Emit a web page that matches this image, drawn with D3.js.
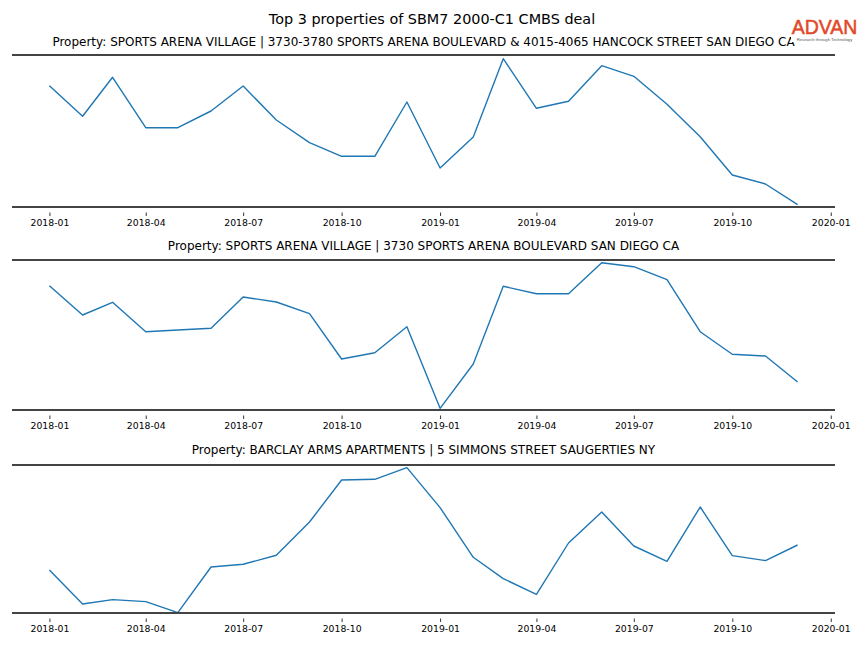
<!DOCTYPE html>
<html>
<head>
<meta charset="utf-8">
<script src="https://cdn.jsdelivr.net/npm/d3@7"></script>
<style>
  html, body { margin: 0; padding: 0; background: #fff; }
  svg { display: block; font-family: "DejaVu Sans", sans-serif; }
</style>
</head>
<body>
<svg id="chart" width="864" height="648"></svg>
<script>
// ---------- data (monthly values, arbitrary units) ----------
const months = ["2018-01","2018-02","2018-03","2018-04","2018-05","2018-06","2018-07","2018-08","2018-09","2018-10","2018-11","2018-12",
                "2019-01","2019-02","2019-03","2019-04","2019-05","2019-06","2019-07","2019-08","2019-09","2019-10","2019-11","2019-12"];

const mainTitle = "Top 3 properties of SBM7 2000-C1 CMBS deal";
const propertyTitles = [
  "Property: SPORTS ARENA VILLAGE | 3730-3780 SPORTS ARENA BOULEVARD & 4015-4065 HANCOCK STREET SAN DIEGO CA",
  "Property: SPORTS ARENA VILLAGE | 3730 SPORTS ARENA BOULEVARD SAN DIEGO CA",
  "Property: BARCLAY ARMS APARTMENTS | 5 SIMMONS STREET SAUGERTIES NY"
];

const series1 = [121.3, 90.7, 129.7, 79.3, 79.3, 96.0, 121.0, 87.0, 64.3, 50.7, 50.7, 105.0,
                 39.0, 70.0, 148.3, 98.7, 105.7, 141.3, 130.7, 102.7, 70.3, 32.0, 23.0, 2.3];
const series2 = [124.3, 95.0, 107.7, 78.3, 80.0, 81.7, 113.0, 108.0, 96.3, 51.0, 57.3, 83.3,
                 1.7, 46.0, 123.7, 116.3, 116.3, 147.3, 143.3, 130.3, 78.3, 55.7, 54.0, 28.0];
const series3 = [43.0, 9.0, 13.4, 11.4, 0.4, 46.0, 48.7, 57.7, 91.0, 133.0, 133.7, 145.4,
                 105.4, 55.7, 34.4, 18.7, 70.0, 101.0, 67.0, 51.7, 106.0, 57.4, 52.4, 68.0];
const seriesList = [series1, series2, series3];
// value range shown on each panel (bottom, top)
const yRanges = [[0, 152], [0, 150], [0, 148]];

const tickLabels = ["2018-01","2018-04","2018-07","2018-10","2019-01","2019-04","2019-07","2019-10","2020-01"];

const logoText = "ADVAN";
const logoTagline = "Research through Technology";

// ---------- layout ----------
const svg = d3.select("#chart");
const parse = d3.timeParse("%Y-%m");
const dates = months.map(parse);
const tickDates = tickLabels.map(parse);

const left = 12, right = 835;
const panels = [
  { top: 55,  bottom: 207, titleY: 42 },
  { top: 260, bottom: 410, titleY: 246 },
  { top: 465, bottom: 613, titleY: 450 }
];

// x domain with 5% margin like matplotlib
const d0 = dates[0], d1 = dates[dates.length - 1];
const span = d1 - d0;
const x = d3.scaleTime()
  .domain([new Date(+d0 - span * 0.05), new Date(+d1 + span * 0.05)])
  .range([left, right]);

svg.append("text")
  .attr("x", 432).attr("y", 24.3)
  .attr("text-anchor", "middle")
  .attr("font-size", 14.4)
  .attr("fill", "#000")
  .text(mainTitle);

panels.forEach((p, i) => {
  const g = svg.append("g");
  const y = d3.scaleLinear().domain(yRanges[i]).range([p.bottom, p.top]);

  g.append("text")
    .attr("x", (left + right) / 2).attr("y", p.titleY + 4.3)
    .attr("text-anchor", "middle")
    .attr("font-size", 12)
    .attr("fill", "#000")
    .text(propertyTitles[i]);

  // x axis
  const axis = d3.axisBottom(x)
    .tickValues(tickDates)
    .tickFormat(d3.timeFormat("%Y-%m"))
    .tickSize(0)
    .tickPadding(0);
  const ax = g.append("g")
    .attr("transform", `translate(0,${p.bottom})`)
    .call(axis);
  ax.select(".domain").remove();
  ax.selectAll(".tick line")
    .attr("y1", 5.5).attr("y2", 9)
    .attr("stroke", "#000").attr("stroke-width", 0.8);
  ax.selectAll(".tick text")
    .attr("y", 16).attr("dy", "0.36em")
    .attr("font-family", "DejaVu Sans, sans-serif")
    .attr("font-size", 9.3)
    .attr("fill", "#000");

  // line
  const line = d3.line()
    .x((d, j) => x(dates[j]))
    .y(d => y(d));
  g.append("path")
    .datum(seriesList[i])
    .attr("fill", "none")
    .attr("stroke", "#1f77b4")
    .attr("stroke-width", 1.4)
    .attr("stroke-linejoin", "round")
    .attr("d", line);

  // top & bottom rules
  [p.top, p.bottom].forEach(yy => {
    g.append("line")
      .attr("x1", left).attr("x2", right)
      .attr("y1", yy).attr("y2", yy)
      .attr("stroke", "#444")
      .attr("stroke-width", 1.8);
  });
});

// logo
const logo = svg.append("g");
logo.append("rect").attr("x", 791).attr("y", 14).attr("width", 70).attr("height", 28).attr("fill", "#fff");
logo.append("text")
  .attr("x", 824.5).attr("y", 33.6)
  .attr("text-anchor", "middle")
  .attr("font-family", "Liberation Sans, Arial, sans-serif")
  .attr("font-size", 19.5)
  .attr("fill", "#e2492b")
  .attr("stroke", "#e2492b")
  .attr("stroke-width", 0.5)
  .text(logoText);
logo.append("text")
  .attr("x", 824.5).attr("y", 41)
  .attr("text-anchor", "middle")
  .attr("font-family", "Liberation Sans, Arial, sans-serif")
  .attr("font-size", 4.2)
  .attr("fill", "#555")
  .text(logoTagline);
</script>
</body>
</html>
